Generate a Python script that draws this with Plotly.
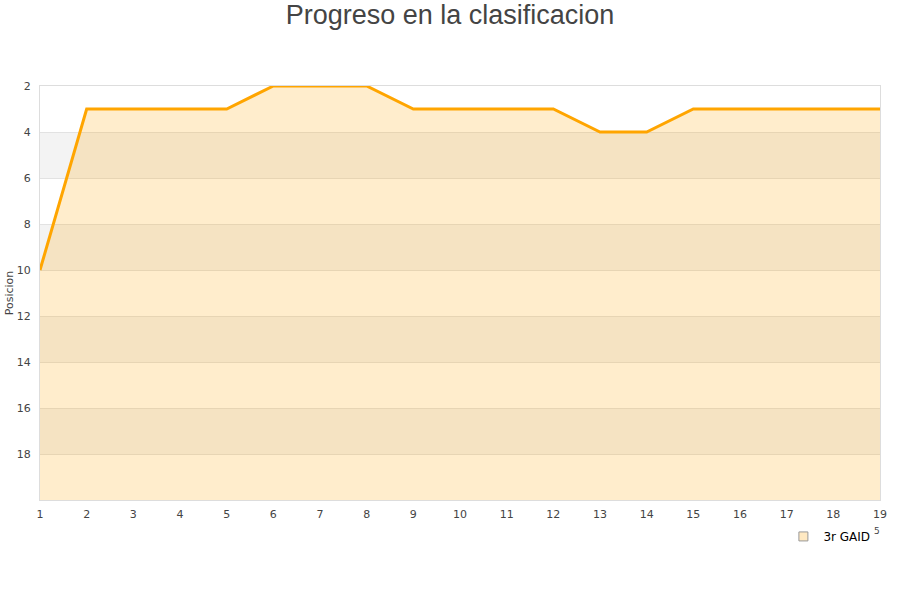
import plotly.graph_objects as go

jornadas = list(range(1, 20))
posiciones = [10, 3, 3, 3, 3, 2, 2, 2, 3, 3, 3, 3, 4, 4, 3, 3, 3, 3, 3]
equipo = "3r GAID"
titulo = "Progreso en la clasificacion"
y_ticks = [2, 4, 6, 8, 10, 12, 14, 16, 18]
y_min, y_max = 2, 20

fig = go.Figure()

# baseline (bottom of axis) for the area fill
fig.add_trace(go.Scatter(x=jornadas, y=[y_max] * len(jornadas), mode="lines",
                         line=dict(width=0), showlegend=False, hoverinfo="skip"))
fig.add_trace(go.Scatter(x=jornadas, y=posiciones, mode="lines", fill="tonexty",
                         fillcolor="rgba(255,165,0,0.2)",
                         line=dict(color="#ffa500", width=3), showlegend=False))
# legend entry
fig.add_trace(go.Scatter(x=[None], y=[None], mode="markers", name=equipo,
                         marker=dict(symbol="square", size=9, color="#ffe9c2",
                                     line=dict(color="#999999", width=1))))

shapes = []
for i, t in enumerate(y_ticks):
    if i % 2 == 1:
        shapes.append(dict(type="rect", xref="paper", yref="y", x0=0, x1=1,
                           y0=t, y1=t + 2, fillcolor="#f3f3f3", line=dict(width=0),
                           layer="below"))

fig.update_layout(
    width=900, height=600,
    paper_bgcolor="white", plot_bgcolor="white",
    margin=dict(l=40, r=20, t=86, b=100, autoexpand=False),
    title=dict(text=titulo, x=0.5, xanchor="center", y=0.975, yanchor="middle",
               font=dict(family="Liberation Sans, Arial", size=27, color="#444444")),
    font=dict(family="DejaVu Sans, Verdana", size=11, color="#444444"),
    shapes=shapes,
    showlegend=True,
    legend=dict(x=0.885, y=-0.088, xanchor="left", yanchor="middle",
                bgcolor="rgba(0,0,0,0)", font=dict(size=12, color="#000000")),
    annotations=[dict(text="5", xref="paper", yref="paper", x=1.002, y=-0.075,
                      xanchor="right", yanchor="middle", showarrow=False,
                      font=dict(size=9, color="#444444"))],
    xaxis=dict(range=[1, 19], tickvals=jornadas, showgrid=False, zeroline=False,
               automargin=False, ticklabelstandoff=4,
               showline=True, linecolor="#dddddd", mirror=True, ticks="",
               tickfont=dict(size=11, color="#444444")),
    yaxis=dict(range=[y_max, y_min], tickvals=y_ticks, showgrid=True,
               automargin=False, ticklabelstandoff=6,
               gridcolor="#e2e2e2", zeroline=False, showline=True,
               linecolor="#dddddd", mirror=True, ticks="",
               title=dict(text="Posicion", font=dict(size=11, color="#444444"), standoff=0),
               tickfont=dict(size=11, color="#444444")),
)

fig.write_html("out.html", config={"displayModeBar": False},
               post_script="document.body.style.margin='0';")
